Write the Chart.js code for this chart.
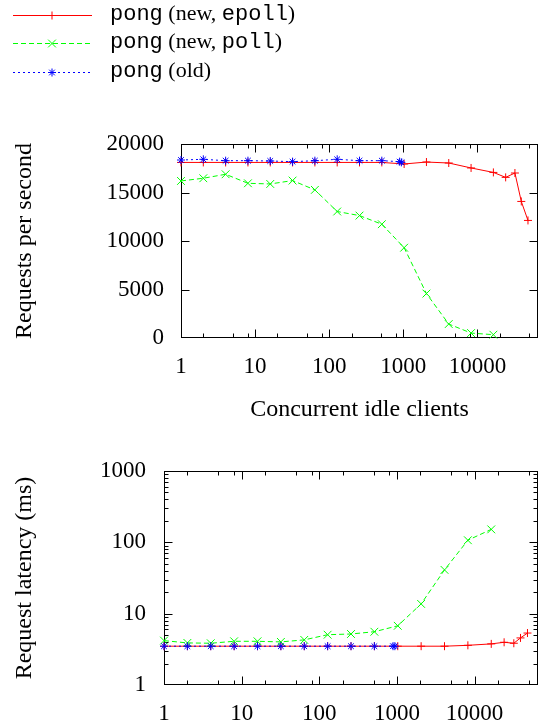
<!DOCTYPE html>
<html>
<head>
<meta charset="utf-8">
<script src="https://cdn.jsdelivr.net/npm/chart.js@4.4.1/dist/chart.umd.min.js"></script>
<style>
  html, body { margin: 0; padding: 0; background: #fff; }
  #wrap { position: relative; width: 540px; height: 723px; overflow: hidden; }
  canvas { position: absolute; left: 0; }
  #top { top: 0; }
  #bottom { top: 430px; }
</style>
</head>
<body>
<div id="wrap">
  <canvas id="top" width="540" height="430"></canvas>
  <canvas id="bottom" width="540" height="293"></canvas>
</div>
<script>
// x values (concurrent idle clients) per series
const clientsEpoll = [1, 2, 4, 8, 16, 32, 64, 128, 256, 512, 1024, 2048, 4096, 8192, 16384, 24000, 32000, 39000, 48000];
const clientsPoll = [1, 2, 4, 8, 16, 32, 64, 128, 256, 512, 1024, 2048, 4096, 8192, 16384];
const clientsOld = [1, 2, 4, 8, 16, 32, 64, 128, 256, 512, 890, 940];

// requests per second
const rpsEpoll = [18100, 18100, 18100, 18100, 18100, 18100, 18100, 18100, 18100, 18100, 17940, 18140, 18040, 17530, 17070, 16560, 17010, 14080, 12120];
const rpsPoll = [16190, 16470, 16880, 15950, 15880, 16230, 15270, 13040, 12620, 11730, 9310, 4580, 1440, 510, 340];
const rpsOld = [18350, 18420, 18280, 18280, 18250, 18180, 18280, 18420, 18280, 18280, 18180, 18110];

// request latency (ms)
const latEpoll = [3.5, 3.5, 3.5, 3.5, 3.5, 3.5, 3.5, 3.5, 3.5, 3.5, 3.5, 3.5, 3.5, 3.6, 3.77, 3.97, 3.85, 4.57, 5.35];
const latPoll = [4.19, 3.89, 3.85, 4.1, 4.1, 4.02, 4.29, 5.07, 5.19, 5.58, 6.76, 13.7, 41.1, 107, 152];
const latOld = [3.5, 3.5, 3.5, 3.5, 3.5, 3.5, 3.5, 3.5, 3.5, 3.5, 3.5, 3.5];

// tick labels
const xTicks = [1, 10, 100, 1000, 10000];
const rpsTicks = [0, 5000, 10000, 15000, 20000];
const latTicks = [1, 10, 100, 1000];

// legend text, split into [text, font] pieces
const legendEpoll = [['pong', 'mono'], [' (new, ', 'serif'], ['epoll', 'mono'], [')', 'serif']];
const legendPoll = [['pong', 'mono'], [' (new, ', 'serif'], ['poll', 'mono'], [')', 'serif']];
const legendOld = [['pong', 'mono'], [' (old)', 'serif']];

const SERIF = "'Liberation Serif', 'Times New Roman', serif";
const MONO = "'Liberation Mono', 'Courier New', monospace";
Chart.defaults.font.family = SERIF;
Chart.defaults.color = '#000';

const styles = {
    epoll: { color: '#ff0000', dash: [], marker: 'cross', r: 4 },
    poll: { color: '#00ff00', dash: [5, 3], marker: 'crossRot', r: 5.5 },
    old: { color: '#0000ff', dash: [2, 3], marker: 'star', r: 4 }
};

function pts(xs, ys) {
    return xs.map((x, i) => ({ x: x, y: ys[i] }));
}

function makeSet(label, data, st, order) {
    return {
        label: label,
        data: data,
        showLine: true,
        borderColor: st.color,
        backgroundColor: st.color,
        borderWidth: 1,
        borderDash: st.dash,
        pointStyle: st.marker,
        pointRadius: st.r,
        pointBorderWidth: 1,
        pointBorderColor: st.color,
        pointHoverRadius: st.r,
        order: order,
        clip: false
    };
}

function drawMarker(ctx, style, x, y, r) {
    ctx.beginPath();
    if (style === 'cross' || style === 'star') {
        ctx.moveTo(x - r, y); ctx.lineTo(x + r, y);
        ctx.moveTo(x, y - r); ctx.lineTo(x, y + r);
    }
    if (style === 'crossRot' || style === 'star') {
        const d = r * Math.SQRT1_2;
        ctx.moveTo(x - d, y - d); ctx.lineTo(x + d, y + d);
        ctx.moveTo(x - d, y + d); ctx.lineTo(x + d, y - d);
    }
    ctx.stroke();
}

// box around plot with inward ticks on all sides (gnuplot style)
function framePlugin(xMinor, yMajor, yMinor) {
    return {
        id: 'frame',
        beforeDatasetsDraw(chart) {
            const { ctx, chartArea: a, scales } = chart;
            const L = Math.round(a.left) + 0.5, R = Math.round(a.right) - 0.5;
            const T = Math.round(a.top) + 0.5, B = Math.round(a.bottom) - 0.5;
            ctx.save();
            ctx.strokeStyle = '#000';
            ctx.lineWidth = 1;
            ctx.setLineDash([]);
            ctx.strokeRect(L, T, R - L, B - T);
            ctx.beginPath();
            const xt = (v, len) => {
                const p = Math.round(scales.x.getPixelForValue(v)) + 0.5;
                ctx.moveTo(p, B); ctx.lineTo(p, B - len);
                ctx.moveTo(p, T); ctx.lineTo(p, T + len);
            };
            const yt = (v, len) => {
                const p = Math.round(scales.y.getPixelForValue(v)) + 0.5;
                ctx.moveTo(L, p); ctx.lineTo(L + len, p);
                ctx.moveTo(R, p); ctx.lineTo(R - len, p);
            };
            xTicks.forEach(v => xt(v, 8));
            xMinor.forEach(v => xt(v, 4));
            yMajor.forEach(v => yt(v, 8));
            yMinor.forEach(v => yt(v, 4));
            ctx.stroke();
            ctx.restore();
        }
    };
}

const xMax = 65536;
const xMinor = [];
xTicks.forEach(d => [2, 5, 8].forEach(m => { if (d * m < xMax) xMinor.push(d * m); }));
const latMinor = [];
[1, 10, 100].forEach(d => [2, 3, 4, 5, 6, 7, 8, 9].forEach(m => latMinor.push(d * m)));

function xScale(titleText, height) {
    return {
        type: 'logarithmic',
        bounds: 'data',
        min: 1,
        max: xMax,
        grid: { display: false, drawTicks: false },
        border: { display: false },
        afterBuildTicks: s => { s.ticks = xTicks.map(v => ({ value: v })); },
        afterFit: s => { s.height = height; },
        ticks: {
            autoSkip: false,
            maxRotation: 0,
            padding: 15,
            font: { size: 23 },
            callback: v => String(v)
        },
        title: {
            display: !!titleText,
            text: titleText,
            font: { size: 24 },
            padding: { top: 0, bottom: 6 }
        }
    };
}

const legendPlugin = {
    id: 'pongLegend',
    afterDraw(chart) {
        const ctx = chart.ctx;
        const rows = [[legendEpoll, styles.epoll, 15], [legendPoll, styles.poll, 43], [legendOld, styles.old, 72]];
        ctx.save();
        rows.forEach(([pieces, st, y]) => {
            ctx.strokeStyle = st.color;
            ctx.lineWidth = 1;
            ctx.setLineDash(st.dash);
            ctx.beginPath();
            ctx.moveTo(13, y + 0.5); ctx.lineTo(92, y + 0.5);
            ctx.stroke();
            ctx.setLineDash([]);
            drawMarker(ctx, st.marker, 52, y + 0.5, st.r);
            let x = 110;
            ctx.fillStyle = '#000';
            ctx.textBaseline = 'alphabetic';
            ctx.textAlign = 'left';
            pieces.forEach(([text, f]) => {
                ctx.font = '22px ' + (f === 'mono' ? MONO : SERIF);
                ctx.fillText(text, x, y + 5);
                x += ctx.measureText(text).width;
            });
        });
        ctx.restore();
    }
};

const common = {
    responsive: false,
    animation: false,
    events: [],
    plugins: { legend: { display: false }, tooltip: { enabled: false } }
};

new Chart(document.getElementById('top'), {
    type: 'scatter',
    data: {
        datasets: [
            makeSet('pong (new, epoll)', pts(clientsEpoll, rpsEpoll), styles.epoll, 2),
            makeSet('pong (new, poll)', pts(clientsPoll, rpsPoll), styles.poll, 1),
            makeSet('pong (old)', pts(clientsOld, rpsOld), styles.old, 0)
        ]
    },
    options: {
        ...common,
        layout: { autoPadding: false, padding: { top: 144, left: 0, right: 2, bottom: 0 } },
        scales: {
            x: xScale('Concurrent idle clients', 92),
            y: {
                type: 'linear',
                bounds: 'data',
                min: 0,
                max: 20000,
                grid: { display: false, drawTicks: false },
                border: { display: false },
                afterBuildTicks: s => { s.ticks = rpsTicks.map(v => ({ value: v })); },
                afterFit: s => { s.width = 181; },
                ticks: { padding: 17, font: { size: 23 }, callback: v => String(v) },
                title: { display: true, text: 'Requests per second', font: { size: 24 }, padding: { top: 10, bottom: 0 } }
            }
        }
    },
    plugins: [framePlugin(xMinor, [5000, 10000, 15000], []), legendPlugin]
});

new Chart(document.getElementById('bottom'), {
    type: 'scatter',
    data: {
        datasets: [
            makeSet('pong (new, epoll)', pts(clientsEpoll, latEpoll), styles.epoll, 2),
            makeSet('pong (new, poll)', pts(clientsPoll, latPoll), styles.poll, 1),
            makeSet('pong (old)', pts(clientsOld, latOld), styles.old, 0)
        ]
    },
    options: {
        ...common,
        layout: { autoPadding: false, padding: { top: 41, left: 0, right: 2, bottom: 0 } },
        scales: {
            x: xScale('', 38),
            y: {
                type: 'logarithmic',
                bounds: 'data',
                min: 1,
                max: 1000,
                grid: { display: false, drawTicks: false },
                border: { display: false },
                afterBuildTicks: s => { s.ticks = latTicks.map(v => ({ value: v })); },
                afterFit: s => { s.width = 164; },
                ticks: { padding: 18, font: { size: 23 }, callback: v => String(v) },
                title: { display: true, text: 'Request latency (ms)', font: { size: 24 }, padding: { top: 10, bottom: 0 } }
            }
        }
    },
    plugins: [framePlugin(xMinor, [10, 100], latMinor)]
});
</script>
</body>
</html>
